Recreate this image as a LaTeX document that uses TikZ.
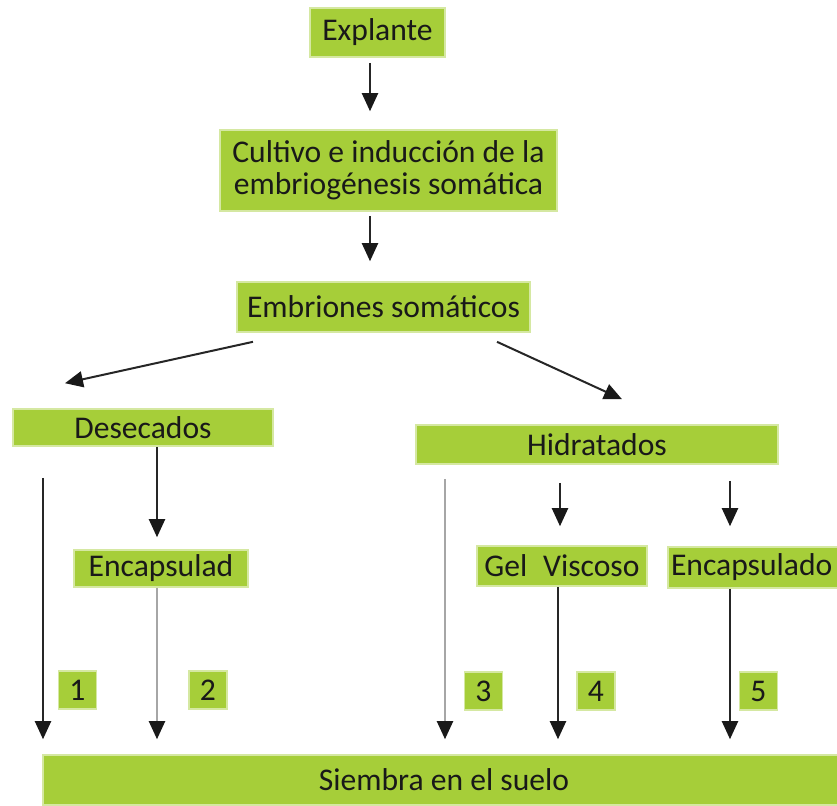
\documentclass[tikz,border=0pt]{standalone}
\usepackage{fontspec}
\setmainfont{Carlito}
\usetikzlibrary{arrows.meta,calc}
\definecolor{boxgreen}{HTML}{A6CE39}
\definecolor{boxedge}{HTML}{D5E8A2}

\begin{document}
\begin{tikzpicture}[
            x=0.5pt, y=-0.5pt,
            stage/.style={
                draw=boxedge,
                line width=0.8pt,
                fill=boxgreen,
                align=center,
                inner sep=0pt,
                font=\fontsize{15.8}{16}\selectfont,
                text=black!90
            },
            tag/.style={
                stage,
                minimum width=19pt,
                minimum height=19pt
            },
            flow/.style={-{Triangle[width=8pt,length=9pt,color=black!90]}, line width=1pt, draw=black!85},
            pale/.style={flow, draw=black!35}
        ]

            \useasboundingbox (0,0) rectangle (837,805);

            \node[stage, minimum width=67.5pt, minimum height=24.5pt]
                (explante) at (377.5,32.5) {Explante};

            \node[stage, minimum width=168.5pt, minimum height=40.5pt]
                (cultivo) at (388.5,170.5) {Cultivo e inducción de la\\embriogénesis somática};

            \node[stage, minimum width=146.5pt, minimum height=25pt]
                (embriones) at (383.5,307) {Embriones somáticos};

            \node[stage, minimum width=130pt, minimum height=18.5pt]
                (desecados) at (143,427.5) {Desecados};

            \node[stage, minimum width=181pt, minimum height=19.5pt]
                (hidratados) at (597,444.5) {Hidratados};

            \node[stage, minimum width=87pt, minimum height=18.5pt]
                (encapsulad) at (161,568.5) {Encapsulad};

            \node[stage, minimum width=85pt, minimum height=20pt]
                (gel) at (562,566) {Gel\enspace Viscoso};

            \node[stage, minimum height=20.5pt, text width=89pt, inner xsep=1.5pt, align=left]
                (encapsulado) at (760,567.5) {Encapsulado};

            \node[stage, minimum width=401pt, minimum height=25pt]
                (siembra) at (444,780) {Siembra en el suelo};

            % numbered routes
            \node[tag] (n1) at (77.5,690) {1};
            \node[tag] (n2) at (208,690) {2};
            \node[tag] (n3) at (483.5,691) {3};
            \node[tag] (n4) at (596,691) {4};
            \node[tag] (n5) at (758.5,691) {5};

            % connectors
            \coordinate (a1) at ($(explante.south)+(-7.5,5)$);
            \draw[flow] (a1) -- ($(a1 |- cultivo.north)+(0,-18)$);

            \coordinate (a2) at ($(cultivo.south)+(-18.5,4)$);
            \draw[flow] (a2) -- ($(a2 |- embriones.north)+(0,-20)$);

            \draw[flow]
                ($(embriones.south)+(-130.5,9)$)
                -- ($(desecados.north)+(-78,-25)$);

            \draw[flow]
                ($(embriones.south)+(113.5,9)$)
                -- ($(hidratados.north)+(25,-25)$);

            \coordinate (r1) at ($(desecados.south)+(-100,31)$);
            \draw[flow] (r1) -- ($(r1 |- siembra.north)+(0,-15)$);

            \coordinate (d1) at ($(desecados.south)+(14,0)$);
            \draw[flow] (d1) -- ($(d1 |- encapsulad.north)+(0,-12)$);

            \coordinate (r2) at ($(encapsulad.south)+(-4,0)$);
            \draw[pale] (r2) -- ($(r2 |- siembra.north)+(0,-15)$);

            \coordinate (r3) at ($(hidratados.south)+(-152,14)$);
            \draw[pale] (r3) -- ($(r3 |- siembra.north)+(0,-15)$);

            \coordinate (h1) at ($(hidratados.south)+(-37,18)$);
            \draw[flow] (h1) -- ($(h1 |- gel.north)+(0,-19)$);

            \coordinate (h2) at ($(hidratados.south)+(133,16)$);
            \draw[flow] (h2) -- ($(h2 |- encapsulado.north)+(0,-20)$);

            \coordinate (r4) at ($(gel.south)+(-4,0)$);
            \draw[flow] (r4) -- ($(r4 |- siembra.north)+(0,-15)$);

            \coordinate (r5) at ($(encapsulado.south)+(-30,0)$);
            \draw[flow] (r5) -- ($(r5 |- siembra.north)+(0,-15)$);

        \end{tikzpicture}
\end{document}
